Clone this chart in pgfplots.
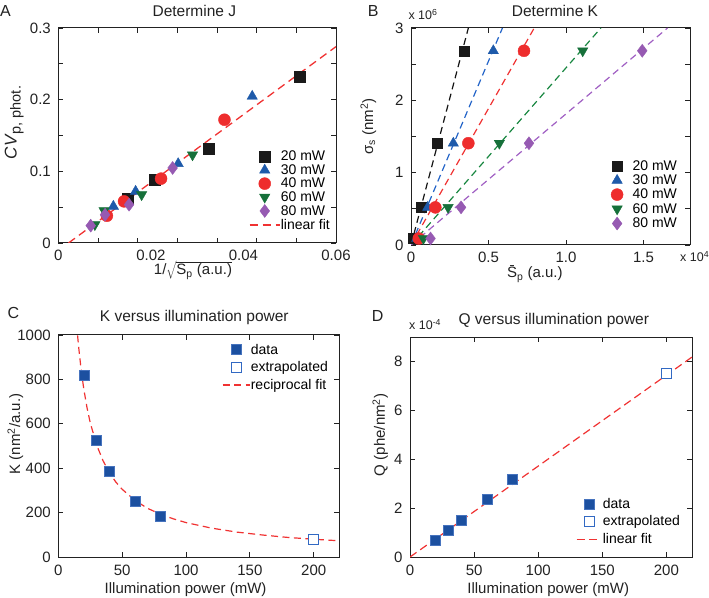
\documentclass[border=0pt]{standalone}
\usepackage{pgfplots}
\pgfplotsset{compat=1.18}
\usepackage{fontspec}
\setmainfont{Liberation Sans}
\definecolor{axcol}{RGB}{34,34,34}
\definecolor{cblack}{RGB}{26,26,26}
\definecolor{cblue}{RGB}{30,90,170}
\definecolor{cred}{RGB}{238,45,45}
\definecolor{cgreen}{RGB}{22,112,58}
\definecolor{cpurple}{RGB}{150,90,178}
\definecolor{lblack}{RGB}{20,20,20}
\definecolor{lblue}{RGB}{35,100,200}
\definecolor{lred}{RGB}{240,50,50}
\definecolor{lgreen}{RGB}{25,135,65}
\definecolor{lpurple}{RGB}{160,95,195}
\definecolor{cdata}{RGB}{28,80,160}
\definecolor{cdataedge}{RGB}{70,115,190}
\definecolor{cext}{RGB}{50,105,195}
\newcommand{\fs}{\fontsize{15}{17}\selectfont}
\newcommand{\ft}{\fontsize{15.5}{18}\selectfont}
\newcommand{\fleg}{\fontsize{14}{16}\selectfont}
\newcommand{\fsm}{\fontsize{12.5}{14}\selectfont}
\newcommand{\ls}{\fleg\rule[-3.4pt]{0pt}{12.9pt}}
\pgfplotsset{
  panel/.style={
    scale only axis, anchor=south west,
    axis line style={axcol, line width=1pt},
    every tick/.style={axcol, line width=0.8pt},
    major tick length=5pt,
    tick align=inside,
    xtick pos=both, ytick pos=both,
    scaled ticks=false,
    /pgf/number format/assume math mode=true,
    tick label style={font=\fs, text=axcol},
    label style={font=\fs, text=axcol},
    title style={font=\ft, text=axcol},
    every axis title shift=0pt,
    yticklabel style={anchor=east, xshift=-4pt},
    legend cell align=left,
    legend style={draw=none, fill=none, font=\fleg, inner sep=0pt, outer sep=0pt,
      nodes={inner sep=0.5pt}},
  },
}
\begin{document}
\begin{tikzpicture}
\useasboundingbox (0pt,0pt) rectangle (709pt,597pt);
% ---------------- A ----------------
\begin{axis}[panel, at={(58.3pt,354pt)}, width=277.7pt, height=215pt,
  xmin=0, xmax=0.06, ymin=0, ymax=0.3,
  xtick={0,0.008571,0.017143,0.025714,0.034286,0.042857,0.051429,0.06},
  xticklabels={,,,,,,,},
  extra x ticks={0,0.02,0.04,0.06},
  extra x tick labels={0,0.02,0.04,0.06},
  extra x tick style={major tick length=0pt},
  xticklabel style={anchor=base, yshift=-17.5pt},
  ytick={0,0.05,0.1,0.15,0.2,0.25,0.3},
  yticklabels={0,,0.1,,0.2,,0.3},
  title={Determine J}, title style={at={(0.49,1)}, anchor=base, yshift=11pt},
  xlabel={1/$\sqrt{\mbox{\={S}\textsubscript{p} (a.u.)}}$},
  xlabel style={at={(axis description cs:0.485,0)}, anchor=base, yshift=-32pt},
  ylabel={{\fontsize{17}{19}\selectfont\textit{CV}}\raisebox{-4pt}{\fontsize{14.5}{16}\selectfont p, phot.}},
  ylabel style={at={(axis description cs:-0.150,0.56)}, anchor=base},
  legend image code/.code={\path[mark repeat=2,mark phase=2,#1] plot coordinates {(0pt,0pt)(15pt,0pt)(30pt,0pt)};},
  legend style={at={(0.687,0.43)}, anchor=north west, row sep=1.2pt},
]
\addplot[draw=none, mark=square*, mark size=5.5pt, mark options={draw=cblack, fill=cblack}, draw=none] coordinates {(0.0150,0.0619) (0.0209,0.0884) (0.0324,0.131) (0.0522,0.2316)};
\addlegendentry{\ls 20 mW}
\addplot[draw=none, mark=triangle*, mark size=6pt, mark options={draw=cblue, fill=cblue}, draw=none] coordinates {(0.0119,0.0512) (0.0167,0.0721) (0.0259,0.1107) (0.0419,0.2047)};
\addlegendentry{\ls 30 mW}
\addplot[draw=none, mark=*, mark size=6pt, mark options={draw=cred, fill=cred}, draw=none] coordinates {(0.0105,0.038) (0.0142,0.0581) (0.0222,0.0898) (0.0359,0.172)};
\addlegendentry{\ls 40 mW}
\addplot[draw=none, mark=triangle*, mark size=6pt, mark options={rotate=180, draw=cgreen, fill=cgreen}, draw=none] coordinates {(0.0079,0.0256) (0.0099,0.0451) (0.0180,0.0674) (0.0290,0.123)};
\addlegendentry{\ls 60 mW}
\addplot[draw=none, mark=diamond*, mark size=6.5pt, mark options={draw=cpurple, fill=cpurple}, draw=none] coordinates {(0.0070,0.0242) (0.0101,0.0395) (0.0153,0.0535) (0.0247,0.1047)};
\addlegendentry{\ls 80 mW}
\addplot[draw=lred, line width=1.3pt, dash pattern=on 8pt off 5pt, draw=lred] coordinates {(0.0022,0) (0.06,0.274)};
\addlegendentry{\ls linear fit}
\end{axis}
% ---------------- B ----------------
\begin{axis}[panel, at={(411pt,352pt)}, width=279pt, height=217pt,
  xmin=0, xmax=18000, ymin=0, ymax=3e6,
  xtick={0,5000,10000,15000}, xticklabels={0,0.5,1.0,1.5},
  xticklabel style={anchor=base, yshift=-17.5pt},
  ytick={0,5e5,1e6,1.5e6,2e6,2.5e6,3e6}, yticklabels={0,,1,,2,,3},
  title={Determine K}, title style={at={(0.516,1)}, anchor=base, yshift=11.3pt},
  xlabel={\={S}\textsubscript{p} (a.u.)},
  xlabel style={at={(axis description cs:0.444,0)}, anchor=base, yshift=-33pt},
  ylabel={σ\textsubscript{s} (nm\textsuperscript{2})},
  ylabel style={at={(axis description cs:-0.136,0.545)}, anchor=base},
  legend image code/.code={\path[mark repeat=2,mark phase=2,#1] plot coordinates {(0pt,0pt)(15pt,0pt)(30pt,0pt)};},
  legend style={at={(0.685,0.392)}, anchor=north west, row sep=2pt},
]
\addplot[draw=lblack, line width=1.2pt, dash pattern=on 7pt off 4.5pt, forget plot] coordinates {(0,0) (3700,3e6)};
\addplot[draw=lblue, line width=1.2pt, dash pattern=on 7pt off 4.5pt, forget plot] coordinates {(0,0) (5900,3e6)};
\addplot[draw=lred, line width=1.2pt, dash pattern=on 7pt off 4.5pt, forget plot] coordinates {(0,0) (7950,3e6)};
\addplot[draw=lgreen, line width=1.2pt, dash pattern=on 7pt off 4.5pt, forget plot] coordinates {(0,0) (12250,3e6)};
\addplot[draw=lpurple, line width=1.2pt, dash pattern=on 7pt off 4.5pt, forget plot] coordinates {(0,0) (16550,3e6)};
\addplot[draw=none, mark=square*, mark size=5pt, mark options={draw=cblack, fill=cblack}, draw=none] coordinates {(150,9e4) (650,5.2e5) (1720,1.407e6) (3420,2.685e6)};
\addlegendentry{\ls 20 mW}
\addplot[draw=none, mark=triangle*, mark size=6pt, mark options={draw=cblue, fill=cblue}, draw=none] coordinates {(370,9e4) (1080,5.2e5) (2730,1.407e6) (5310,2.685e6)};
\addlegendentry{\ls 30 mW}
\addplot[draw=none, mark=*, mark size=6pt, mark options={draw=cred, fill=cred}, draw=none] coordinates {(500,9e4) (1570,5.2e5) (3700,1.407e6) (7290,2.685e6)};
\addlegendentry{\ls 40 mW}
\addplot[draw=none, mark=triangle*, mark size=6pt, mark options={rotate=180, draw=cgreen, fill=cgreen}, draw=none] coordinates {(800,9e4) (2390,5.2e5) (5700,1.407e6) (11080,2.685e6)};
\addlegendentry{\ls 60 mW}
\addplot[draw=none, mark=diamond*, mark size=6.5pt, mark options={draw=cpurple, fill=cpurple}, draw=none] coordinates {(1260,9e4) (3230,5.2e5) (7610,1.407e6) (14920,2.685e6)};
\addlegendentry{\ls 80 mW}
\end{axis}
% ---------------- C ----------------
\begin{axis}[panel, at={(58.3pt,40pt)}, width=281pt, height=222pt,
  xmin=0, xmax=220, ymin=0, ymax=1000,
  xtick={0,50,100,150,200}, xticklabels={0,50,100,150,200},
  xticklabel style={anchor=base, yshift=-18.5pt},
  ytick={0,200,400,600,800,1000}, yticklabels={0,200,400,600,800,1000},
  title={K versus illumination power}, title style={at={(0.484,1)}, anchor=base, yshift=13.3pt},
  xlabel={Illumination power (mW)},
  xlabel style={at={(axis description cs:0.453,0)}, anchor=base, yshift=-36pt},
  ylabel={K (nm\textsuperscript{2}/a.u.)},
  ylabel style={at={(axis description cs:-0.136,0.554)}, anchor=base},
  legend image code/.code={\path[mark repeat=2,mark phase=2,#1] plot coordinates {(0pt,0pt)(13.5pt,0pt)(27pt,0pt)};},
  legend style={at={(0.583,0.962)}, anchor=north west, row sep=5pt},
]
\addplot[draw=none, mark=square*, mark size=5pt, mark options={fill=cdata, draw=cdataedge, line width=0.6pt}, draw=none] coordinates {(20,820) (30,525) (40,385) (60,252) (80,185)};
\addlegendentry{\ls data}
\addplot[draw=none, mark=square*, mark size=5pt, mark options={draw=cext, fill=white, line width=1.1pt}, draw=none] coordinates {(200,78)};
\addlegendentry{\ls extrapolated}
\addplot[draw=lred, line width=1.2pt, dash pattern=on 7pt off 4.5pt, draw=lred] coordinates {(15.1,998) (16,942) (18,838) (20,755) (22.5,672) (25,605) (30,505) (35,434) (40,380) (45,338) (50,305) (60,255) (70,219) (80,192.5) (90,172) (100,155) (120,130) (140,112) (160,99) (180,88) (200,80) (220,73)};
\addlegendentry{\ls reciprocal fit}
\end{axis}
% ---------------- D ----------------
\begin{axis}[panel, at={(410pt,40pt)}, width=282pt, height=220pt,
  xmin=0, xmax=220, ymin=0, ymax=9e-4,
  xtick={0,50,100,150,200}, xticklabels={0,50,100,150,200},
  xticklabel style={anchor=base, yshift=-18.5pt},
  ytick={0,2e-4,4e-4,6e-4,8e-4}, yticklabels={0,2,4,6,8},
  title={Q versus illumination power}, title style={at={(0.51,1)}, anchor=base, yshift=12.7pt},
  xlabel={Illumination power (mW)},
  xlabel style={at={(axis description cs:0.49,0)}, anchor=base, yshift=-36pt},
  ylabel={Q (phe/nm\textsuperscript{2})},
  ylabel style={at={(axis description cs:-0.0887,0.555)}, anchor=base},
  legend image code/.code={\path[mark repeat=2,mark phase=2,#1] plot coordinates {(0pt,0pt)(12.5pt,0pt)(25pt,0pt)};},
  legend style={at={(0.589,0.270)}, anchor=north west, row sep=5pt},
]
\addplot[draw=none, mark=square*, mark size=5pt, mark options={fill=cdata, draw=cdataedge, line width=0.6pt}, draw=none] coordinates {(20,0.70e-4) (30,1.10e-4) (40,1.52e-4) (60,2.35e-4) (80,3.19e-4)};
\addlegendentry{\ls data}
\addplot[draw=none, mark=square*, mark size=5pt, mark options={draw=cext, fill=white, line width=1.1pt}, draw=none] coordinates {(200,7.5e-4)};
\addlegendentry{\ls extrapolated}
\addplot[draw=lred, line width=1.2pt, dash pattern=on 8pt off 4.5pt, draw=lred] coordinates {(0,0) (220,8.18e-4)};
\addlegendentry{\ls linear fit}
\end{axis}
% ---------------- annotations ----------------
\node[anchor=base west, font=\fontsize{16}{18}\selectfont, text=axcol, inner sep=0pt] at (0pt,580.3pt) {A};
\node[anchor=base west, font=\fontsize{16}{18}\selectfont, text=axcol, inner sep=0pt] at (367.7pt,580.3pt) {B};
\node[anchor=base west, font=\fontsize{16}{18}\selectfont, text=axcol, inner sep=0pt] at (7.3pt,278.7pt) {C};
\node[anchor=base west, font=\fontsize{16}{18}\selectfont, text=axcol, inner sep=0pt] at (371.7pt,275.3pt) {D};
\node[anchor=base west, font=\fsm, text=axcol, inner sep=0pt] at (408.3pt,577pt) {x 10\textsuperscript{6}};
\node[anchor=base west, font=\fsm, text=axcol, inner sep=0pt] at (680pt,335.3pt) {x 10\textsuperscript{4}};
\node[anchor=base west, font=\fsm, text=axcol, inner sep=0pt] at (409pt,267pt) {x 10\textsuperscript{-4}};
\end{tikzpicture}
\end{document}
